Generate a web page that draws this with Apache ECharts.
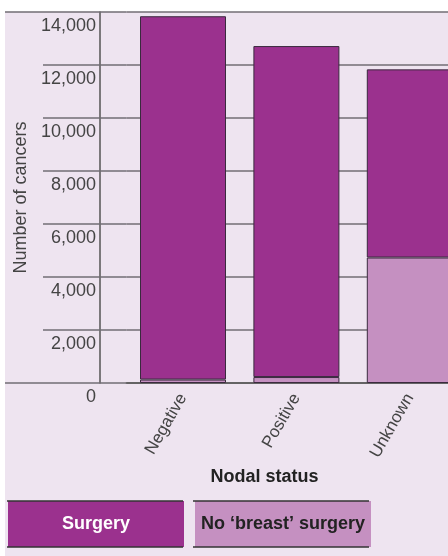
<!DOCTYPE html>
<html><head><meta charset="utf-8">
<script src="https://cdn.jsdelivr.net/npm/echarts@6/dist/echarts.min.js"></script>
<style>
html,body{margin:0;padding:0;background:#fff;}
#bg{position:absolute;left:5px;top:12px;width:443px;height:544px;background:#EEE4F0;}
#chart{position:absolute;left:0;top:0;width:448px;height:556px;}
</style></head><body><div id="bg"></div><div id="chart"></div>
<script>
// ---- data ----
const categories = ['Negative', 'Positive', 'Unknown'];
const seriesNames = ['Surgery', 'No \u2018breast\u2019 surgery'];
const surgery = [13710, 12490, 7100];
const noSurgery = [130, 225, 4735];
const yMin = 0, yMax = 14000, yStep = 2000;
const yTickLabels = ['0', '2,000', '4,000', '6,000', '8,000', '10,000', '12,000', '14,000'];
const xAxisTitle = 'Nodal status';
const yAxisTitle = 'Number of cancers';

// ---- style ----
const PURPLE = '#9B318E', LIGHT = '#C590C1';
const GRID = '#726e74', AXIS = '#555', TEXT = '#444', EDGE = '#3a2a3e';
const FONT = '"Liberation Sans", Arial, sans-serif';

const chart = echarts.init(document.getElementById('chart'), null, {renderer: 'canvas'});
const gridLeft = 126.3, gridTop = 12, gridHeight = 371;
const bandW = 113.4;

const baseY = {type: 'value', min: yMin, max: yMax, interval: yStep, position: 'left'};

chart.setOption({
  backgroundColor: 'transparent',
  animation: false,
  grid: {left: gridLeft, top: gridTop, width: bandW * categories.length, height: gridHeight,
    containLabel: false, outerBoundsMode: 'none'},
  xAxis: {
    type: 'category', data: categories,
    axisTick: {show: false},
    axisLine: {lineStyle: {color: AXIS, width: 1.5}},
    axisLabel: {rotate: 60, fontSize: 17, color: TEXT, margin: 12, fontFamily: FONT},
    name: xAxisTitle, nameLocation: 'middle', nameGap: 80,
    nameTextStyle: {fontWeight: 'bold', fontSize: 18, color: '#222', fontFamily: FONT, padding: [0, 64, 0, 0]}
  },
  yAxis: [
    Object.assign({}, baseY, {
      offset: gridLeft - 100,
      axisLine: {show: true, lineStyle: {color: AXIS, width: 1.5}},
      axisTick: {show: false},
      splitLine: {show: true, lineStyle: {color: GRID, width: 1.5}},
      axisLabel: {fontSize: 18, color: TEXT, margin: 4, fontFamily: FONT, verticalAlign: 'top', padding: [5, 0, 0, 0],
        formatter: (v) => yTickLabels[Math.round((v - yMin) / yStep)]},
      name: yAxisTitle, nameLocation: 'middle', nameGap: 67,
      nameTextStyle: {fontSize: 18, color: TEXT, fontFamily: FONT}
    }),
    Object.assign({}, baseY, {
      offset: 0,
      axisLine: {show: false},
      axisLabel: {show: false},
      splitLine: {show: false},
      axisTick: {show: true, length: gridLeft - 43, lineStyle: {color: GRID, width: 1.5}}
    }),
    Object.assign({}, baseY, {
      offset: 0,
      axisLine: {show: false},
      axisLabel: {show: false},
      splitLine: {show: false},
      axisTick: {show: true, customValues: [yMin, yMax], length: gridLeft - 5, lineStyle: {color: GRID, width: 1.5}}
    })
  ],
  legend: {
    left: 2, top: 501, padding: 0, itemGap: 5, itemWidth: 0, itemHeight: 0, selectedMode: false,
    data: seriesNames,
    formatter: (name) => (name === seriesNames[0] ? '{s|' : '{n|') + name + '}',
    textStyle: {
      rich: {
        s: {width: 176, height: 46, lineHeight: 46, align: 'center', backgroundColor: PURPLE, color: '#fff', fontWeight: 'bold', fontSize: 18, fontFamily: FONT},
        n: {width: 176, height: 46, lineHeight: 46, align: 'center', backgroundColor: LIGHT, color: '#222', fontWeight: 'bold', fontSize: 18, fontFamily: FONT}
      }
    }
  },
  graphic: [
    {type: 'line', shape: {x1: 7, y1: 501, x2: 183, y2: 501}, style: {stroke: '#333', lineWidth: 1.5}, z: 100},
    {type: 'line', shape: {x1: 7, y1: 547, x2: 183, y2: 547}, style: {stroke: '#333', lineWidth: 1.5}, z: 100},
    {type: 'line', shape: {x1: 193, y1: 501, x2: 369, y2: 501}, style: {stroke: '#333', lineWidth: 1.5}, z: 100},
    {type: 'line', shape: {x1: 193, y1: 547, x2: 369, y2: 547}, style: {stroke: '#333', lineWidth: 1.5}, z: 100}
  ],
  series: [
    {name: seriesNames[1], type: 'bar', stack: 'total', data: noSurgery, barWidth: 86, yAxisIndex: 0,
      itemStyle: {color: LIGHT, borderColor: EDGE, borderWidth: 1}},
    {name: seriesNames[0], type: 'bar', stack: 'total', data: surgery, barWidth: 86, yAxisIndex: 0,
      itemStyle: {color: PURPLE, borderColor: EDGE, borderWidth: 1}}
  ]
});
</script></body></html>
